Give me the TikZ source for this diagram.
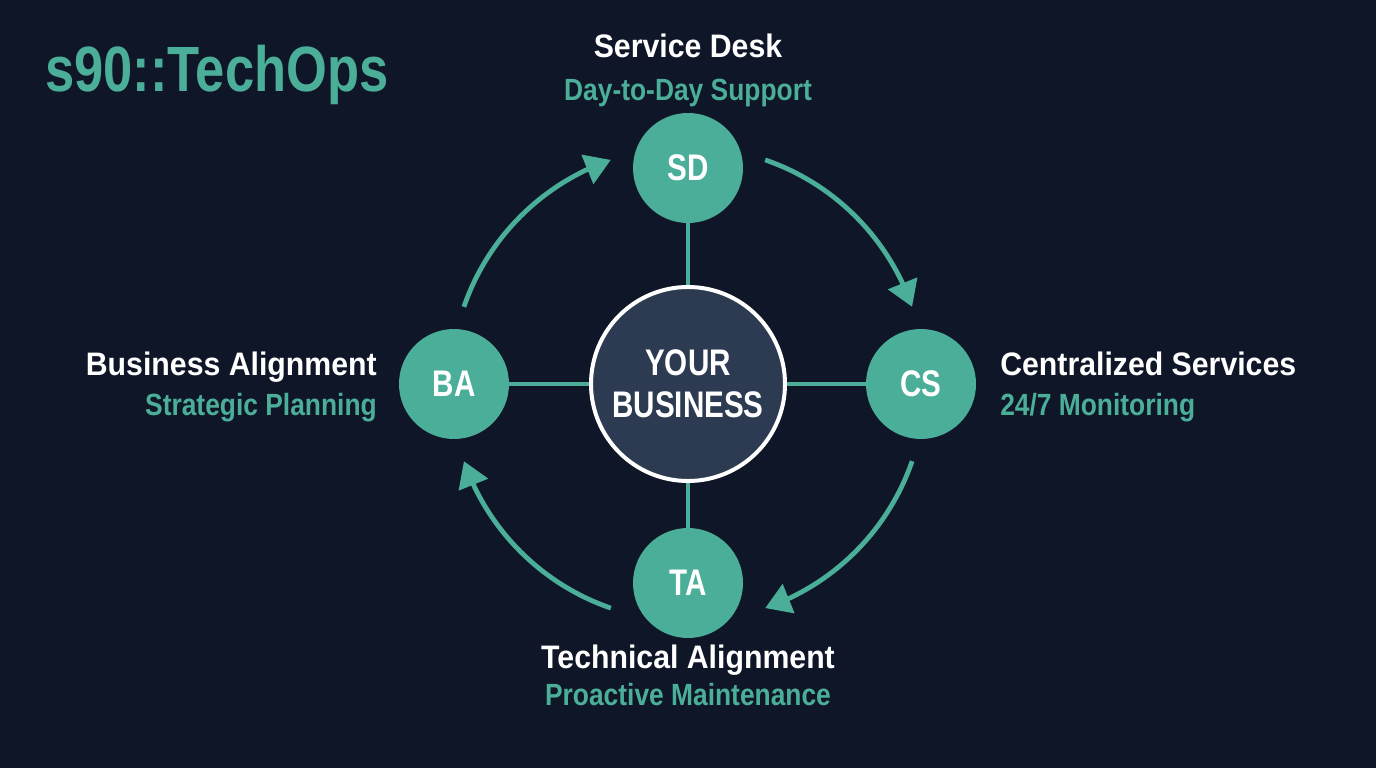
\documentclass[tikz,border=0pt]{standalone}
\usepackage{fontspec}
\setmainfont{Liberation Sans}
\newfontfamily\condfont{Liberation Sans Bold}[FakeStretch=0.8]
\newfontfamily\titlefont{Liberation Sans Bold}[FakeStretch=0.82]
\newfontfamily\mainlabfont{Liberation Sans Bold}[FakeStretch=0.93]
\newfontfamily\sublabfont{Liberation Sans Bold}[FakeStretch=0.86]
\usetikzlibrary{arrows.meta,bending}
\definecolor{bg}{HTML}{0F1628}
\definecolor{teal1}{HTML}{4BAE99}
\definecolor{core}{HTML}{2C3B52}
\begin{document}
\begin{tikzpicture}[x=0.75pt,y=0.75pt,
 sat/.style={circle,fill=teal1,minimum size=82.5pt,inner sep=0pt,text=white,font=\condfont\fontsize{27.75pt}{30pt}\selectfont},
 hub/.style={circle,fill=core,draw=white,line width=3pt,minimum size=145.5pt,inner sep=0pt,text=white,align=center,font=\condfont\fontsize{27.75pt}{31.5pt}\selectfont},
 spoke/.style={draw=teal1,line width=3pt},
 flow/.style={draw=teal1,line width=3.6pt,-{Triangle[length=19pt,width=23pt,flex]}},
 mainlab/.style={text=white,font=\mainlabfont\fontsize{24.4pt}{27pt}\selectfont,inner sep=0pt},
 sublab/.style={text=teal1,font=\sublabfont\fontsize{23pt}{25pt}\selectfont,inner sep=0pt}]
\useasboundingbox (0,0) rectangle (1376,768);
\fill[bg] (0,0) rectangle (1376,768);

\node[anchor=base west,inner sep=0pt,text=teal1,font=\titlefont\fontsize{48pt}{52pt}\selectfont] (title) at (45,676) {s90::TechOps};

\node[hub] (C) at (688,384) {YOUR\\BUSINESS};
\node[sat] (SD) at (688,600) {SD};
\node[sat] (CS) at (921,384) {CS};
\node[sat] (BA) at (454,384) {BA};
\node[sat] (TA) at (688,185) {TA};

\draw[spoke] (C) -- (SD);
\draw[spoke] (C) -- (CS);
\draw[spoke] (C) -- (BA);
\draw[spoke] (C) -- (TA);

\draw[flow] ([shift={(71:237)}]C.center) arc[start angle=71,end angle=19,radius=237];
\draw[flow] ([shift={(-19:237)}]C.center) arc[start angle=-19,end angle=-71,radius=237];
\draw[flow] ([shift={(-109:237)}]C.center) arc[start angle=-109,end angle=-161,radius=237];
\draw[flow] ([shift={(161:237)}]C.center) arc[start angle=161,end angle=109,radius=237];

\node[mainlab,anchor=base] (sdl) at (688,710) {Service Desk};
\node[sublab,anchor=base] (sds) at (688,667) {Day-to-Day Support};
\node[mainlab,anchor=base east] (bal) at (377,392) {Business Alignment};
\node[sublab,anchor=base east] (bas) at (377,352) {Strategic Planning};
\node[mainlab,anchor=base west] (csl) at (1000,392) {Centralized Services};
\node[sublab,anchor=base west] (css) at (1000,352) {24/7 Monitoring};
\node[mainlab,anchor=base] (tal) at (688,100) {Technical Alignment};
\node[sublab,anchor=base] (tas) at (688,63) {Proactive Maintenance};
\end{tikzpicture}
\end{document}
